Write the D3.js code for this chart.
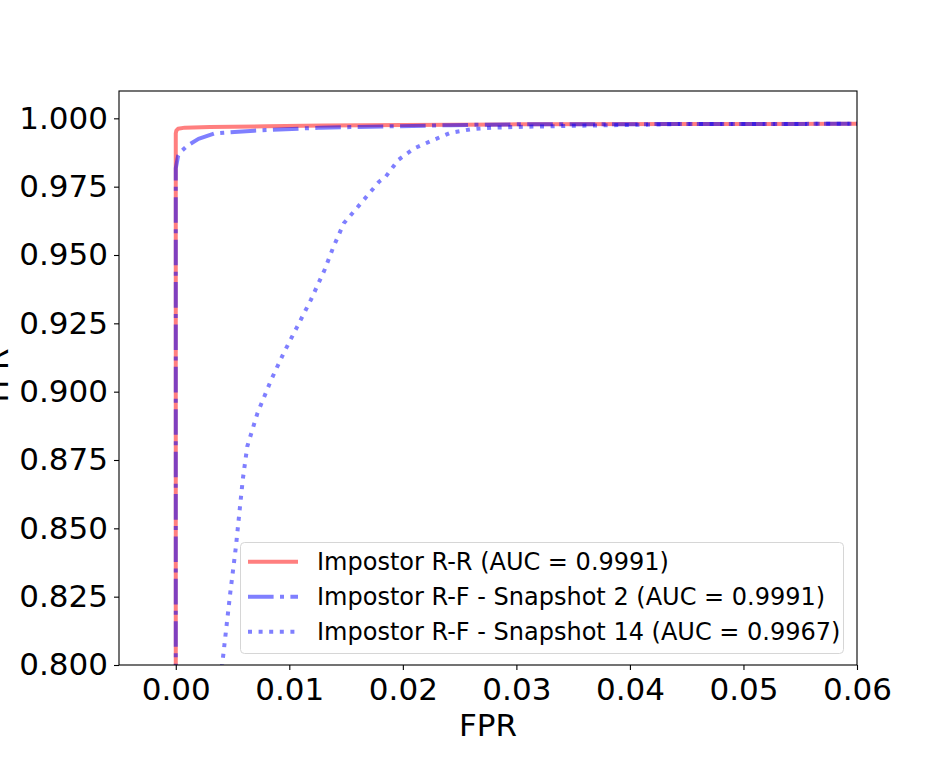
<!DOCTYPE html>
<html>
<head>
<meta charset="utf-8">
<script src="https://cdn.jsdelivr.net/npm/d3@7"></script>
<style>
  html, body { margin: 0; padding: 0; background: #fff; }
  svg { display: block; font-family: "DejaVu Sans", sans-serif; }
</style>
</head>
<body>
<svg id="chart" width="952" height="761"></svg>
<script>
// ROC points (FPR, TPR)
const fprRR = [0, 0, 0.00005, 0.0002, 0.0008, 0.003, 0.008, 0.013, 0.02, 0.03, 0.045, 0.06];
const tprRR = [0.0, 0.9945, 0.9955, 0.9962, 0.9966, 0.9968, 0.9971, 0.9974, 0.9976, 0.9978, 0.9979, 0.998];

const fprSnap2 = [0, 0, 0.0002, 0.00044, 0.001, 0.002, 0.0034, 0.0069, 0.0128, 0.0154, 0.0242, 0.03, 0.045, 0.06];
const tprSnap2 = [0.0, 0.9817, 0.9862, 0.9878, 0.9899, 0.9925, 0.9945, 0.9955, 0.9966, 0.9968, 0.9975, 0.9978, 0.9979, 0.998];

const fprSnap14 = [0.0039, 0.0041, 0.0048, 0.0053, 0.0056, 0.0059, 0.0063, 0.0072, 0.0084, 0.0095,
  0.0107, 0.0119, 0.0131, 0.0139, 0.0148, 0.0163, 0.0179, 0.0185, 0.0196, 0.021, 0.0227,
  0.0242, 0.026, 0.028, 0.0306, 0.0356, 0.0444, 0.06];
const tprSnap14 = [0.795, 0.8006, 0.8264, 0.8434, 0.8556, 0.8678, 0.88, 0.8922, 0.9043, 0.9141,
  0.9238, 0.9336, 0.9445, 0.9531, 0.9616, 0.9689, 0.9768, 0.9787, 0.9848, 0.989, 0.9921,
  0.9947, 0.996, 0.9966, 0.9969, 0.9973, 0.9979, 0.998];

const xTicks = [0, 0.01, 0.02, 0.03, 0.04, 0.05, 0.06];
const yTicks = [0.8, 0.825, 0.85, 0.875, 0.9, 0.925, 0.95, 0.975, 1.0];

const seriesNames = [
  "Impostor R-R (AUC = 0.9991)",
  "Impostor R-F - Snapshot 2 (AUC = 0.9991)",
  "Impostor R-F - Snapshot 14 (AUC = 0.9967)"
];

const series = [
  { name: seriesNames[0], fpr: fprRR, tpr: tprRR, color: "red", dash: null },
  { name: seriesNames[1], fpr: fprSnap2, tpr: tprSnap2, color: "blue", dash: "25.6,6.4,4,6.4" },
  { name: seriesNames[2], fpr: fprSnap14, tpr: tprSnap14, color: "blue", dash: "4,6.6" }
];

const width = 952;
const height = 761;
const margin = { top: 91, right: 95, bottom: 96, left: 119 };

const svg = d3.select("#chart");

const x = d3.scaleLinear()
  .domain([-0.005, 0.06])
  .range([margin.left, width - margin.right]);

const y = d3.scaleLinear()
  .domain([0.8, 1.01])
  .range([height - margin.bottom, margin.top]);

svg.append("defs").append("clipPath")
  .attr("id", "plot-clip")
  .append("rect")
  .attr("x", margin.left)
  .attr("y", margin.top)
  .attr("width", x.range()[1] - x.range()[0])
  .attr("height", y.range()[0] - y.range()[1]);

// curves
const line = d3.line()
  .x((d) => x(d[0]))
  .y((d) => y(d[1]));

const plot = svg.append("g").attr("clip-path", "url(#plot-clip)");

series.forEach((s) => {
  const pts = s.fpr.map((f, i) => [f, s.tpr[i]]);
  plot.append("path")
    .datum(pts)
    .attr("d", line)
    .attr("fill", "none")
    .attr("stroke", s.color)
    .attr("stroke-opacity", 0.5)
    .attr("stroke-width", 4)
    .attr("stroke-linejoin", "round")
    .attr("stroke-linecap", s.dash ? "butt" : "square")
    .attr("stroke-dasharray", s.dash);
});

// axes
const xAxis = d3.axisBottom(x)
  .tickValues(xTicks)
  .tickFormat(d3.format(".2f"))
  .tickSize(5)
  .tickPadding(6);

const yAxis = d3.axisLeft(y)
  .tickValues(yTicks)
  .tickFormat(d3.format(".3f"))
  .tickSize(5)
  .tickPadding(6);

const gx = svg.append("g")
  .attr("transform", `translate(0,${height - margin.bottom})`)
  .call(xAxis);

const gy = svg.append("g")
  .attr("transform", `translate(${margin.left},0)`)
  .call(yAxis);

[gx, gy].forEach((g) => {
  g.select(".domain").remove();
  g.selectAll(".tick line").attr("stroke", "#000").attr("stroke-width", 1.1);
  g.selectAll(".tick text")
    .attr("fill", "#000")
    .style("font-size", "31px")
    .style("font-family", "DejaVu Sans, sans-serif");
});
gx.selectAll(".tick text").attr("dy", "0.76em");

// frame
svg.append("rect")
  .attr("x", margin.left)
  .attr("y", margin.top)
  .attr("width", x.range()[1] - x.range()[0])
  .attr("height", y.range()[0] - y.range()[1])
  .attr("fill", "none")
  .attr("stroke", "#000")
  .attr("stroke-width", 1.1);

// axis labels
svg.append("text")
  .attr("x", (x.range()[0] + x.range()[1]) / 2)
  .attr("y", 736)
  .attr("text-anchor", "middle")
  .style("font-size", "31px")
  .text("FPR");

svg.append("text")
  .attr("transform", `translate(8,${(y.range()[0] + y.range()[1]) / 2}) rotate(-90)`)
  .attr("text-anchor", "middle")
  .style("font-size", "31px")
  .text("TPR");

// legend
const legend = svg.append("g");
legend.append("rect")
  .attr("x", 240.5)
  .attr("y", 542.5)
  .attr("width", 603)
  .attr("height", 111)
  .attr("rx", 4)
  .attr("fill", "#fff")
  .attr("fill-opacity", 0.8)
  .attr("stroke", "#d6d6d6")
  .attr("stroke-width", 1);

series.forEach((s, i) => {
  const cy = 561.7 + i * 35;
  legend.append("line")
    .attr("x1", 248)
    .attr("x2", 298)
    .attr("y1", cy)
    .attr("y2", cy)
    .attr("stroke", s.color)
    .attr("stroke-opacity", 0.5)
    .attr("stroke-width", 4)
    .attr("stroke-dasharray", s.dash);
  legend.append("text")
    .attr("x", 317)
    .attr("y", cy + 8.7)
    .style("font-size", "24px")
    .text(s.name);
});
</script>
</body>
</html>
